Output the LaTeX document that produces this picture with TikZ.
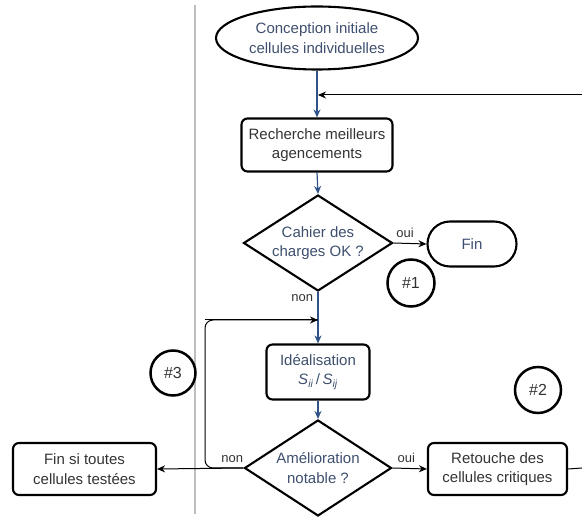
\documentclass[tikz,border=0pt]{standalone}
\usepackage{fontspec}
\setmainfont{Liberation Sans}
\usetikzlibrary{shapes.geometric,shapes.misc,arrows.meta}
\definecolor{flowblue}{HTML}{2F5389}
\definecolor{slatetext}{HTML}{3E4F6E}
\definecolor{graytext}{HTML}{333333}
\definecolor{divider}{HTML}{BDBDBD}
\begin{document}
\begin{tikzpicture}[x=1pt,y=-1pt,
  every node/.style={font=\fontsize{15}{19.5}\selectfont},
  nodeline/.style={draw=black,line width=2.1pt},
  boxnode/.style={nodeline,rectangle,rounded corners=6pt,align=center,inner sep=0pt},
  decnode/.style={nodeline,diamond,inner sep=0pt},
  circnode/.style={draw=black,line width=2.5pt,circle,inner sep=0pt,text=graytext,font=\fontsize{16}{18}\selectfont},
  bluearrow/.style={draw=flowblue,line width=1.2pt,-{Stealth[length=8pt,width=7pt]}},
  blackarrow/.style={draw=black,line width=1pt,-{Stealth[length=8pt,width=7pt]}},
  plainline/.style={draw=black,line width=1pt},
  edgelabel/.style={font=\fontsize{13}{15}\selectfont,text=graytext}
]
\useasboundingbox (0,0) rectangle (582,518);
% divider
\coordinate (divtop) at (195,5);
\coordinate (divbot) at (195,514);
\draw[divider,line width=1.4pt] (divtop) -- (divbot);

% nodes
\node[nodeline,ellipse,minimum width=202pt,minimum height=63pt,inner sep=0pt,align=center,text=slatetext] (start) at (317,38) {Conception initiale\\cellules individuelles};
\node[boxnode,minimum width=151pt,minimum height=53pt,text=graytext] (rech) at (317,145) {Recherche meilleurs\\agencements};
\node[decnode,minimum width=149pt,minimum height=96pt,label={[align=center,text=slatetext,font=\fontsize{15}{19.5}\selectfont]center:Cahier des\\charges OK ?}] (d1) at (318,243) {};
\node[nodeline,rounded rectangle,minimum width=89pt,minimum height=45pt,inner sep=0pt,text=slatetext] (fin) at (472,244) {Fin};
\node[circnode,minimum size=47pt] (c1) at (411,283) {\#1};
\node[boxnode,minimum width=103pt,minimum height=55pt,text=slatetext] (ideal) at (318,372) {Idéalisation\\{\itshape S}\textsubscript{\itshape ii}\,/\,{\itshape S}\textsubscript{\itshape ij}};
\node[decnode,minimum width=147pt,minimum height=96pt,label={[align=center,text=slatetext,font=\fontsize{15}{19.5}\selectfont]center:Amélioration\\notable ?}] (d2) at (318,468) {};
\node[boxnode,minimum width=143pt,minimum height=52pt,text=graytext] (finsi) at (84.5,469) {Fin si toutes\\cellules testées};
\node[boxnode,minimum width=139pt,minimum height=52pt,text=graytext] (ret) at (497.5,469) {Retouche des\\cellules critiques};
\node[circnode,minimum size=45pt] (c3) at (173,373) {\#3};
\node[circnode,minimum size=46pt] (c2) at (538,390) {\#2};

% coordinates
\coordinate (retin) at (318,95);
\coordinate (rightin) at (582,95);
\coordinate (rightout) at (582,468);
\coordinate (loopin) at (318,320);
\coordinate (loopbot) at (205,468);
\coordinate (looptop) at (205,320);

% connectors
\draw[bluearrow] (start.south) -- (rech.north);
\draw[blackarrow] (rightin) -- (retin);
\draw[bluearrow] (rech.south) -- (d1.north);
\draw[blackarrow] (d1.east) -- node[edgelabel,above,pos=0.35,yshift=2pt]{oui} (fin.west);
\draw[bluearrow] (d1.south) -- node[edgelabel,left,pos=0.12,xshift=-1pt]{non} (ideal.north);
\draw[bluearrow] (ideal.south) -- (d2.north);
\draw[blackarrow] (d2.west) -- node[edgelabel,above,pos=0.13,yshift=2pt]{non} (finsi.east);
\draw[plainline,rounded corners=8pt] (d2.west) -- (loopbot) -- (looptop) -- (loopin);
\draw[blackarrow] (looptop) -- (loopin);
\draw[blackarrow] (d2.east) -- node[edgelabel,above,pos=0.4,yshift=2pt]{oui} (ret.west);
\draw[plainline] (ret.east) -- (rightout);
\end{tikzpicture}
\end{document}
